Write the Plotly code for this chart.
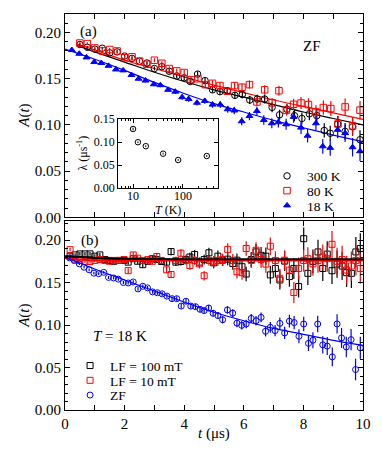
import plotly.graph_objects as go
from plotly.subplots import make_subplots

# ---- panel (a): ZF asymmetry at three temperatures ----
t_300 = [0.5, 0.75, 1.0, 1.25, 1.5, 1.75, 2.0, 2.25, 2.5, 2.75, 3.0, 3.25, 3.5, 3.75, 4.0, 4.2,
         4.45, 4.7, 4.95, 5.2, 5.45, 5.7, 5.95, 6.2, 6.45, 6.7, 6.95, 7.2, 7.45, 7.7, 7.95, 8.2,
         8.45, 8.7, 8.9, 9.15, 9.4, 9.65, 9.9]
a_300 = [0.187, 0.184, 0.182, 0.183, 0.178, 0.179, 0.1745, 0.172, 0.169, 0.167, 0.161, 0.163,
         0.158, 0.153, 0.151, 0.147, 0.155, 0.148, 0.138, 0.136, 0.137, 0.132, 0.133, 0.127,
         0.128, 0.128, 0.119, 0.111, 0.117, 0.110, 0.107, 0.112, 0.110, 0.094, 0.091, 0.101,
         0.093, 0.098, 0.084]
e_300 = [0.0015, 0.0015, 0.0015, 0.0015, 0.0017, 0.0017, 0.0018, 0.0018, 0.0020, 0.0020,
         0.0022, 0.0022, 0.0024, 0.0025, 0.0026, 0.0028, 0.0030, 0.0031, 0.0033, 0.0035,
         0.0037, 0.0039, 0.0041, 0.0044, 0.0046, 0.0049, 0.0052, 0.0055, 0.0058, 0.0061,
         0.0065, 0.0069, 0.0073, 0.0077, 0.0081, 0.0086, 0.0091, 0.0096, 0.0102]

t_80 = [0.5, 0.75, 1.0, 1.25, 1.5, 1.75, 2.0, 2.25, 2.5, 2.75, 3.0, 3.25, 3.5, 3.75, 4.0, 4.23,
        4.46, 4.71, 4.95, 5.2, 5.44, 5.69, 5.94, 6.19, 6.44, 6.7, 6.95, 7.18, 7.43, 7.67, 7.92,
        8.17, 8.42, 8.67, 8.92, 9.16, 9.4, 9.65, 9.9]
a_80 = [0.1886, 0.188, 0.1833, 0.180, 0.1816, 0.180, 0.1727, 0.1737, 0.169, 0.1656, 0.170,
        0.1667, 0.161, 0.1585, 0.1567, 0.149, 0.150, 0.1436, 0.145, 0.1426, 0.1365, 0.1426,
        0.1408, 0.1436, 0.1248, 0.138, 0.124, 0.137, 0.116, 0.1223, 0.1237, 0.122, 0.114,
        0.1188, 0.1177, 0.101, 0.1195, 0.099, 0.116]
e_80 = [0.0015, 0.0015, 0.0015, 0.0016, 0.0017, 0.0017, 0.0018, 0.0019, 0.0020, 0.0021,
        0.0022, 0.0023, 0.0024, 0.0025, 0.0026, 0.0028, 0.0030, 0.0031, 0.0033, 0.0035,
        0.0037, 0.0039, 0.0041, 0.0044, 0.0046, 0.0049, 0.0052, 0.0055, 0.0058, 0.0061,
        0.0065, 0.0069, 0.0073, 0.0077, 0.0081, 0.0086, 0.0091, 0.0096, 0.0100]

t_18 = [0.23, 0.48, 0.72, 0.98, 1.22, 1.46, 1.71, 1.95, 2.23, 2.47, 2.70, 2.98, 3.20, 3.46,
        3.70, 3.93, 4.15, 4.43, 4.69, 4.95, 5.21, 5.46, 5.68, 5.93, 6.19, 6.44, 6.67, 6.94,
        7.16, 7.42, 7.67, 7.92, 8.14, 8.42, 8.65, 8.90, 9.15, 9.40, 9.65, 9.90]
a_18 = [0.181, 0.177, 0.173, 0.168, 0.167, 0.164, 0.160, 0.159, 0.154, 0.150, 0.148, 0.144,
        0.143, 0.138, 0.136, 0.130, 0.128, 0.124, 0.126, 0.122, 0.122, 0.117, 0.1156, 0.104,
        0.1096, 0.115, 0.1053, 0.1018, 0.1029, 0.1007, 0.1088, 0.0971, 0.0883, 0.1018,
        0.0769, 0.0752, 0.0947, 0.0911, 0.0759, 0.0716]
e_18 = [0.0015, 0.0015, 0.0015, 0.0015, 0.0016, 0.0017, 0.0017, 0.0018, 0.0019, 0.0020,
        0.0021, 0.0022, 0.0023, 0.0024, 0.0025, 0.0027, 0.0029, 0.0030, 0.0032, 0.0034,
        0.0036, 0.0038, 0.0040, 0.0043, 0.0045, 0.0048, 0.0051, 0.0054, 0.0057, 0.0060,
        0.0064, 0.0068, 0.0072, 0.0076, 0.0080, 0.0085, 0.0090, 0.0095, 0.0100, 0.0105]

# fit curves
fit_t_a = [0.4, 1, 2, 3, 4, 5, 6, 7, 8, 9, 10]
fit_300 = [0.186, 0.179, 0.168, 0.157, 0.147, 0.138, 0.130, 0.122, 0.114, 0.107, 0.100]
fit_80 = [0.1875, 0.181, 0.170, 0.161, 0.152, 0.143, 0.135, 0.127, 0.120, 0.113, 0.106]
fit_t_18 = [0, 1, 2, 3, 4, 5, 6, 7, 8, 9, 10]
fit_18 = [0.182, 0.171, 0.159, 0.146, 0.134, 0.123, 0.114, 0.105, 0.097, 0.089, 0.082]

# inset: relaxation rate vs temperature
T_inset = [10, 12.5, 18, 40, 80, 300]
lam_inset = [0.1286, 0.0999, 0.0913, 0.075, 0.0613, 0.0699]
lam_err = [0.003, 0.002, 0.002, 0.002, 0.002, 0.002]

# ---- panel (b): T = 18 K, LF and ZF ----
t_b = [0.17, 0.34, 0.50, 0.67, 0.84, 1.00, 1.17, 1.34, 1.49, 1.64, 1.81, 1.98, 2.12, 2.29,
       2.44, 2.61, 2.78, 2.93, 3.08, 3.24, 3.41, 3.56, 3.72, 3.89, 4.05, 4.19, 4.35, 4.51,
       4.67, 4.83, 4.99, 5.13, 5.29, 5.46, 5.63, 5.77, 5.94, 6.08, 6.25, 6.41, 6.58, 6.74,
       6.89, 7.06, 7.21, 7.37, 7.53, 7.68, 7.84, 8.01, 8.15, 8.32, 8.49, 8.65, 8.80, 8.96,
       9.13, 9.30, 9.45, 9.61, 9.76, 9.91]
a_lf100 = [0.1810, 0.1825, 0.1837, 0.1837, 0.1837, 0.1810, 0.1825, 0.1770, 0.1760, 0.1750,
           0.1760, 0.1760, 0.1740, 0.1780, 0.1750, 0.1710, 0.1750, 0.1780, 0.1770, 0.1747,
           0.1740, 0.1864, 0.1740, 0.1747, 0.1770, 0.1800, 0.1830, 0.1740, 0.1770, 0.1850,
           0.1732, 0.1810, 0.1763, 0.1775, 0.1724, 0.1763, 0.1686, 0.1600, 0.1770, 0.1860,
           0.1820, 0.1810, 0.1590, 0.1666, 0.1530, 0.1752, 0.1570, 0.1666, 0.1453, 0.2016,
           0.1608, 0.1750, 0.1860, 0.1666, 0.1834, 0.1639, 0.1717, 0.1694, 0.1616, 0.1608,
           0.1860, 0.1900]
a_lf10 = [0.1887, 0.1767, 0.1760, 0.1750, 0.1747, 0.1760, 0.1770, 0.1760, 0.1750, 0.1760,
          0.1760, 0.1770, 0.1640, 0.1825, 0.1787, 0.1760, 0.1770, 0.1750, 0.1806, 0.1760,
          0.1650, 0.1595, 0.1760, 0.1845, 0.1760, 0.1700, 0.1760, 0.1720, 0.1580, 0.1760,
          0.1750, 0.1760, 0.1770, 0.1890, 0.1760, 0.1627, 0.1616, 0.1900, 0.1760, 0.1880,
          0.1770, 0.1717, 0.1927, 0.1760, 0.1550, 0.1763, 0.1647, 0.1383, 0.1666, 0.1760,
          0.1780, 0.1720, 0.1760, 0.1800, 0.1780, 0.1950, 0.1750, 0.1770, 0.1647, 0.1694,
          0.1760, 0.1666]
e_lf = [0.0020, 0.0020, 0.0021, 0.0021, 0.0022, 0.0022, 0.0023, 0.0024, 0.0025, 0.0026,
        0.0027, 0.0028, 0.0029, 0.0030, 0.0031, 0.0032, 0.0034, 0.0035, 0.0037, 0.0038,
        0.0040, 0.0042, 0.0044, 0.0046, 0.0048, 0.0050, 0.0052, 0.0055, 0.0057, 0.0060,
        0.0063, 0.0066, 0.0069, 0.0072, 0.0075, 0.0079, 0.0082, 0.0086, 0.0090, 0.0094,
        0.0098, 0.0101, 0.0104, 0.0108, 0.0112, 0.0116, 0.0120, 0.0124, 0.0128, 0.0132,
        0.0136, 0.0140, 0.0144, 0.0148, 0.0152, 0.0156, 0.0160, 0.0164, 0.0168, 0.0172,
        0.0176, 0.0180]

t_zf = [0.15, 0.31, 0.48, 0.64, 0.81, 0.97, 1.13, 1.30, 1.46, 1.63, 1.79, 1.96, 2.12, 2.29,
        2.45, 2.61, 2.77, 2.94, 3.10, 3.26, 3.42, 3.59, 3.75, 3.90, 4.06, 4.22, 4.38, 4.53,
        4.67, 4.82, 4.97, 5.13, 5.29, 5.45, 5.63, 5.77, 5.93, 6.08, 6.25, 6.41, 6.58, 6.73,
        6.89, 7.05, 7.21, 7.37, 7.53, 7.69, 7.85, 8.01, 8.17, 8.32, 8.48, 8.65, 8.80, 8.97,
        9.13, 9.28, 9.44, 9.60, 9.75, 9.91]
a_zf = [0.1790, 0.1760, 0.1720, 0.1680, 0.1650, 0.1610, 0.1604, 0.1620, 0.1560, 0.1554,
        0.1540, 0.1500, 0.1495, 0.1507, 0.1425, 0.1456, 0.1437, 0.1390, 0.1380, 0.1367,
        0.1340, 0.1310, 0.1310, 0.1223, 0.1280, 0.1223, 0.1216, 0.1185, 0.1170, 0.1200,
        0.1138, 0.1112, 0.1062, 0.1178, 0.1140, 0.1022, 0.0996, 0.1012, 0.1078, 0.1050,
        0.1090, 0.0926, 0.0973, 0.0934, 0.1019, 0.0907, 0.1046, 0.1029, 0.0868, 0.1012,
        0.0784, 0.0821, 0.1012, 0.0767, 0.0752, 0.0625, 0.1013, 0.0848, 0.0742, 0.0828,
        0.0476, 0.0732]
e_zf = [0.0015, 0.0015, 0.0015, 0.0015, 0.0016, 0.0016, 0.0016, 0.0017, 0.0017, 0.0018,
        0.0018, 0.0019, 0.0019, 0.0020, 0.0021, 0.0021, 0.0022, 0.0023, 0.0024, 0.0025,
        0.0026, 0.0027, 0.0028, 0.0029, 0.0030, 0.0031, 0.0032, 0.0034, 0.0035, 0.0036,
        0.0038, 0.0040, 0.0041, 0.0043, 0.0045, 0.0047, 0.0049, 0.0051, 0.0053, 0.0055,
        0.0058, 0.0060, 0.0063, 0.0066, 0.0069, 0.0072, 0.0075, 0.0078, 0.0082, 0.0086,
        0.0090, 0.0094, 0.0098, 0.0102, 0.0106, 0.0110, 0.0114, 0.0118, 0.0121, 0.0124,
        0.0127, 0.0130]

# fit curves
fit_t_lf100 = [0, 0.5, 1, 2, 4, 10]
fit_lf100 = [0.181, 0.180, 0.179, 0.178, 0.1775, 0.1775]
fit_t_lf10 = [0, 0.5, 1, 2, 10]
fit_lf10 = [0.179, 0.177, 0.176, 0.176, 0.176]
fit_t_zf = [0, 1, 2, 3, 4, 5, 6, 7, 8, 9, 10]
fit_zf = [0.180, 0.166, 0.153, 0.140, 0.127, 0.115, 0.105, 0.096, 0.089, 0.082, 0.076]

FONT = "Liberation Serif, Times New Roman, serif"
BLACK, RED, BLUE = "#000000", "#ff0000", "#0000ff"

fig = make_subplots(rows=2, cols=1, shared_xaxes=True, vertical_spacing=0.01)


def data_trace(t, a, e, color, symbol, name, legend, size=6.5, row=1):
    fig.add_trace(go.Scatter(
        x=t, y=a, mode="markers", name=name, legend=legend,
        marker=dict(symbol=symbol, size=size, color=color, line=dict(color=color, width=1)),
        error_y=dict(type="data", array=e, color=color, thickness=1.2, width=0),
    ), row=row, col=1)


def fit_trace(t, a, color, width=1.2, row=1):
    fig.add_trace(go.Scatter(x=t, y=a, mode="lines", showlegend=False,
                             line=dict(color=color, width=width, shape="spline")),
                  row=row, col=1)


# panel (a)
fit_trace(fit_t_a, fit_300, BLACK)
fit_trace(fit_t_a, fit_80, RED)
fit_trace(fit_t_18, fit_18, BLUE)
data_trace(t_300, a_300, e_300, BLACK, "circle-open", "300 K", "legend")
data_trace(t_80, a_80, e_80, RED, "square-open", "80 K", "legend2")
data_trace(t_18, a_18, e_18, BLUE, "triangle-up", "18 K", "legend3", size=6)

# panel (b)
data_trace(t_b, a_lf100, e_lf, BLACK, "square-open", "LF = 100 mT", "legend4", size=6, row=2)
data_trace(t_b, a_lf10, e_lf, RED, "square-open", "LF = 10 mT", "legend5", size=6, row=2)
data_trace(t_zf, a_zf, e_zf, BLUE, "circle-open", "ZF", "legend6", size=6, row=2)
fit_trace(fit_t_lf10, fit_lf10, RED, width=2, row=2)
fit_trace(fit_t_lf100, fit_lf100, BLACK, width=2, row=2)
fit_trace(fit_t_zf, fit_zf, BLUE, row=2)

# inset
fig.add_trace(go.Scatter(
    x=T_inset, y=lam_inset, mode="markers", showlegend=False, xaxis="x3", yaxis="y3",
    marker=dict(symbol="circle-open", size=5.5, color=BLACK, line=dict(color=BLACK, width=1)),
    error_y=dict(type="data", array=lam_err, color=BLACK, thickness=1, width=0),
))

axis_style = dict(showline=True, linecolor="black", linewidth=1, mirror="allticks",
                  ticks="inside", ticklen=5, tickcolor="black", showgrid=False, zeroline=False,
                  tickfont=dict(family=FONT, size=15, color="black"))

fig.update_xaxes(**axis_style, range=[0, 10], dtick=2,
                 minor=dict(ticks="inside", ticklen=5, dtick=1, tickcolor="black"))
fig.update_yaxes(**axis_style, dtick=0.05, tickformat=".2f",
                 minor=dict(ticks="inside", ticklen=3, dtick=0.01, tickcolor="black"))


def one_legend(x, y):
    return dict(x=x, y=y, xanchor="left", yanchor="middle", bgcolor="rgba(0,0,0,0)",
                font=dict(family=FONT, size=13.5, color="black"), itemwidth=30,
                borderwidth=0)


fig.update_layout(
    width=382, height=454,
    margin=dict(l=65, r=19, t=7, b=44),
    paper_bgcolor="white", plot_bgcolor="white",
    font=dict(family=FONT, size=15, color="black"),
    xaxis=dict(showticklabels=False),
    yaxis=dict(domain=[0.4864, 1], range=[0, 0.22]),
    yaxis2=dict(domain=[0, 0.4764], range=[0, 0.222]),
    xaxis3=dict(domain=[0.178, 0.513], anchor="y3", type="log", range=[0.699, 2.699],
                tickvals=[10, 100], ticktext=["10", "100"], ticklabelstandoff=-4,
                showline=True, linecolor="black", linewidth=1, mirror="allticks",
                ticks="inside", ticklen=4, tickcolor="black", showgrid=False,
                minor=dict(ticks="inside", ticklen=2, tickcolor="black", dtick="D1"),
                tickfont=dict(family=FONT, size=12)),
    yaxis3=dict(domain=[0.560, 0.7345], anchor="x3", range=[0, 0.15], dtick=0.05,
                tickformat=".2f", showline=True, linecolor="black", linewidth=1,
                mirror="allticks", ticks="inside", ticklen=4, tickcolor="black",
                showgrid=False, zeroline=False, tickfont=dict(family=FONT, size=12)),
    legend=one_legend(0.678, 0.5906),
    legend2=one_legend(0.678, 0.5534),
    legend3=one_legend(0.678, 0.5161),
    legend4=one_legend(0.017, 0.1117),
    legend5=one_legend(0.017, 0.0744),
    legend6=one_legend(0.017, 0.0372),
    showlegend=True,
)

# labels and axis titles placed as centred text in paper coordinates
labels = [
    ("(a)", 0.08, 0.955, 15, 0),
    ("ZF", 0.83, 0.918, 15, 0),
    ("(b)", 0.084, 0.427, 15, 0),
    ("<i>T</i> = 18 K", 0.185, 0.186, 15, 0),
    ("<i>A</i>(<i>t</i>)", -0.134, 0.7432, 15, -90),
    ("<i>A</i>(<i>t</i>)", -0.134, 0.238, 15, -90),
    ("<i>t</i> (μs)", 0.5, -0.0596, 15, 0),
    ("<i>T</i> (K)", 0.3456, 0.5062, 12, 0),
    ("λ (μs<sup>-1</sup>)", 0.0604, 0.650, 12, -90),
]
for text, x, y, size, angle in labels:
    fig.add_annotation(text=text, x=x, y=y, xref="paper", yref="paper", xanchor="center",
                       yanchor="middle", showarrow=False, textangle=angle,
                       font=dict(family=FONT, size=size, color="black"))

# the page body has a default 8px margin; drop it so the figure sits at the corner
fig.write_html("out.html", config={"displayModeBar": False},
               post_script="document.body.style.margin='0';")
